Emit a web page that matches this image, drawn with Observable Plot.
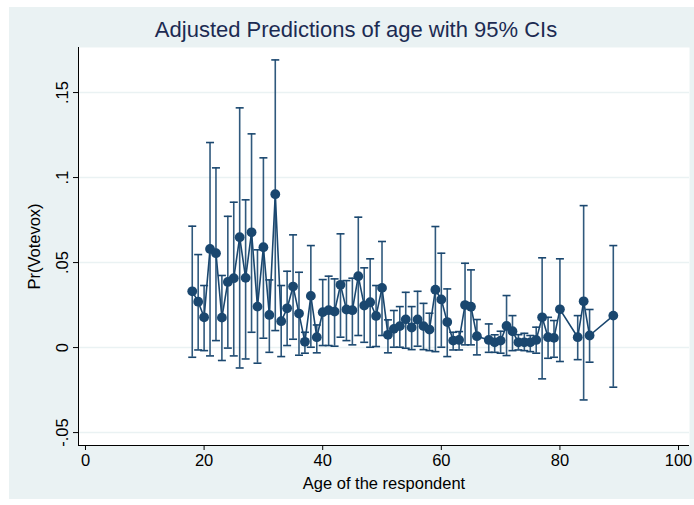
<!DOCTYPE html>
<html>
<head>
<meta charset="utf-8">
<script src="https://cdn.jsdelivr.net/npm/d3@7"></script>
<script src="https://cdn.jsdelivr.net/npm/@observablehq/plot@0.6"></script>
<style>
  html, body { margin: 0; padding: 0; background: #ffffff; }
  #wrap { position: relative; width: 694px; height: 505px; overflow: hidden; }
  #bg { position: absolute; left: 9px; top: 7px; width: 685px; height: 492px; background: #eaf2f3; }
  #chart { position: absolute; left: 0; top: 0; }
  #chart svg { background: transparent; font-family: "Liberation Sans", Arial, Helvetica, sans-serif; }
</style>
</head>
<body>
<div id="wrap"><div id="bg"></div><div id="chart"></div></div>
<script>
const ages = [18,19,20,21,22,23,24,25,26,27,28,29,30,31,32,33,34,35,36,37,38,39,40,41,42,43,44,45,46,47,48,49,50,51,52,53,54,55,56,57,58,59,60,61,62,63,64,65,66,68,69,70,71,72,73,74,75,76,77,78,79,80,83,84,85,89];
const estimates = [0.0331,0.0270,0.0178,0.0580,0.0555,0.0176,0.0386,0.0408,0.0649,0.0410,0.0678,0.0241,0.0590,0.0192,0.0902,0.0155,0.0231,0.0359,0.0200,0.0034,0.0304,0.0061,0.0208,0.0220,0.0212,0.0369,0.0224,0.0220,0.0420,0.0247,0.0267,0.0186,0.0351,0.0075,0.0110,0.0126,0.0166,0.0118,0.0165,0.0126,0.0106,0.0340,0.0283,0.0150,0.0041,0.0045,0.0250,0.0240,0.0067,0.0045,0.0031,0.0041,0.0127,0.0096,0.0031,0.0031,0.0031,0.0045,0.0178,0.0061,0.0057,0.0225,0.0061,0.0272,0.0071,0.0188];
const lower = [-0.0057,-0.0014,-0.0018,-0.0049,0.0041,-0.0076,-0.0003,-0.0049,-0.0120,-0.0067,0.0090,-0.0092,0.0055,-0.0028,0.0100,-0.0053,0.0012,0.0049,-0.0045,-0.0033,0.0002,-0.0031,0.0012,0.0012,0.0008,0.0061,0.0041,0.0016,0.0071,0.0031,0.0002,0.0006,0.0071,-0.0031,0.0002,0.0002,-0.0004,-0.0012,0.0008,-0.0012,-0.0018,-0.0024,0.0002,-0.0053,-0.0014,-0.0014,0.0016,0.0016,-0.0043,-0.0028,-0.0028,-0.0033,-0.0047,-0.0018,-0.0014,-0.0018,-0.0024,-0.0033,-0.0184,-0.0063,-0.0057,-0.0082,-0.0071,-0.0308,-0.0086,-0.0233];
const upper = [0.0714,0.0547,0.0365,0.1206,0.1057,0.0424,0.0772,0.0855,0.1410,0.0869,0.1257,0.0575,0.1116,0.0398,0.1692,0.0365,0.0449,0.0663,0.0443,0.0090,0.0600,0.0133,0.0400,0.0420,0.0404,0.0669,0.0394,0.0408,0.0767,0.0469,0.0522,0.0365,0.0624,0.0163,0.0218,0.0241,0.0325,0.0241,0.0331,0.0260,0.0202,0.0712,0.0555,0.0345,0.0090,0.0094,0.0496,0.0457,0.0165,0.0139,0.0075,0.0096,0.0306,0.0188,0.0076,0.0084,0.0071,0.0120,0.0528,0.0178,0.0159,0.0522,0.0188,0.0835,0.0224,0.0600];
const xTicks = [0,20,40,60,80,100];
const yTicks = [-0.05,0,0.05,0.1,0.15];
const yTickLabels = ["-.05","0",".05",".1",".15"];
const titleText = "Adjusted Predictions of age with 95% CIs";
const xLabel = "Age of the respondent";
const yLabel = "Pr(Votevox)";

const data = ages.map((a, i) => ({age: a, est: estimates[i], lo: lower[i], hi: upper[i]}));

const navy = "#1a476f";
const xDomain = [-1.18, 101.85];
const yDomain = [-0.0576, 0.1765];

const cap = { draw(ctx, size) { const w = Math.sqrt(size / Math.PI); ctx.moveTo(-w, 0); ctx.lineTo(w, 0); } };

const chart = Plot.plot({
  width: 694,
  height: 505,
  marginLeft: 78,
  marginRight: 5,
  marginTop: 47,
  marginBottom: 60,
  style: {background: "transparent", fontFamily: "'Liberation Sans', Arial, Helvetica, sans-serif"},
  x: {domain: xDomain},
  y: {domain: yDomain},
  marks: [
    Plot.frame({fill: "white", stroke: null}),
    Plot.ruleY(yTicks, {stroke: "#eaf2f3", strokeWidth: 1.5}),
    Plot.ruleX([xDomain[0]], {stroke: "#000", strokeWidth: 1}),
    Plot.ruleY([yDomain[0]], {stroke: "#000", strokeWidth: 1}),
    Plot.axisX({ticks: xTicks, tickSize: 5, tickPadding: 4, fontSize: 16.5, color: "#000",
      label: xLabel, labelAnchor: "center", labelArrow: "none", labelOffset: 43}),
    Plot.axisY({ticks: yTicks, tickFormat: (d) => yTickLabels[yTicks.indexOf(d)], tickSize: 5, tickPadding: 6,
      tickRotate: -90, fontSize: 16.5, color: "#000",
      label: yLabel, labelAnchor: "center", labelArrow: "none", labelOffset: 50}),
    Plot.ruleX(data, {x: "age", y1: "lo", y2: "hi", stroke: navy, strokeWidth: 1.6, strokeOpacity: 0.9}),
    Plot.dot(data, {x: "age", y: "lo", symbol: cap, r: 4, stroke: navy, strokeWidth: 1.6, fill: "none"}),
    Plot.dot(data, {x: "age", y: "hi", symbol: cap, r: 4, stroke: navy, strokeWidth: 1.6, fill: "none"}),
    Plot.line(data, {x: "age", y: "est", stroke: navy, strokeWidth: 1.6}),
    Plot.dot(data, {x: "age", y: "est", r: 4.9, fill: navy, stroke: "none"}),
    Plot.text([titleText], {frameAnchor: "top", dx: -28, dy: -26, fontSize: 22, fill: "#1c2b52", textAnchor: "middle"})
  ]
});
document.getElementById("chart").appendChild(chart);
</script>
</body>
</html>
